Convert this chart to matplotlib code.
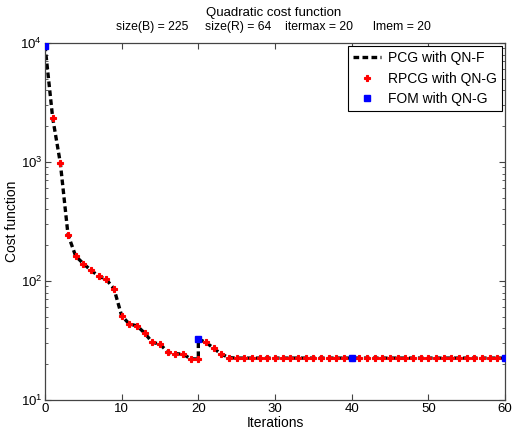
import matplotlib
matplotlib.use("Agg")
import matplotlib.pyplot as plt
import numpy as np

plt.rcParams['font.family'] = ['Liberation Sans', 'DejaVu Sans']

# Cycle 1 (iterations 0..20)
iters_c1 = list(range(0, 21))
cost_c1 = [9500, 2350, 980, 245, 162, 140, 123, 110, 103, 86, 51, 43.5, 42, 36.5,
           30.5, 29.5, 25.3, 24.5, 24.3, 22.2, 22.1]
# After restart (iterations 20..60)
iters_c2 = list(range(20, 61))
cost_c2 = [32.5, 30.5, 27.2, 24.3, 22.7] + [22.5] * 36

fom_iters = [0, 20, 40, 60]
fom_cost = [9500, 32.5, 22.5, 22.5]

pcg_x = iters_c1 + iters_c2
pcg_y = cost_c1 + cost_c2

rpcg_x = iters_c1[1:] + iters_c2[1:-1]
rpcg_y = cost_c1[1:] + cost_c2[1:-1]

title_line1 = 'Quadratic cost function'
title_parts = ['size(B) = 225', 'size(R) = 64', 'itermax = 20', 'lmem = 20']
title_centers = [152, 238, 319, 402]  # pixel x centres

W, H = 512, 433
fig = plt.figure(figsize=(W / 100, H / 100), dpi=100)
ax = fig.add_axes([45 / W, 1 - 400 / H, 460 / W, 357 / H])

ax.plot(pcg_x, pcg_y, 'k--', lw=2.4, dashes=(1.7, 1.0), label='PCG with QN-F', zorder=2)
ax.plot(rpcg_x, rpcg_y, 'P', color='red', ms=4.6, mec='red', mew=0.8, lw=0, label='RPCG with QN-G', zorder=3)
ax.plot(fom_iters, fom_cost, 's', color='blue', ms=4.8, lw=0, label='FOM with QN-G', zorder=4)

ax.set_yscale('log')
ax.set_xlim(0, 60)
ax.set_ylim(10, 1e4)
ax.set_xticks([0, 10, 20, 30, 40, 50, 60])
for s in ax.spines.values():
    s.set_color('#444444')
    s.set_linewidth(0.9)
ax.tick_params(which='both', direction='in', top=True, right=True, labelsize=9.5,
               color='#444444', pad=2)
ax.tick_params(which='major', length=4)
ax.tick_params(which='minor', length=2)
ax.set_xlabel('Iterations', fontsize=10, labelpad=1)
ax.set_ylabel('Cost function', fontsize=10, labelpad=1)

fig.text(274 / W, 1 - 13 / H, title_line1, ha='center', va='center', fontsize=9.5)
for t, cx in zip(title_parts, title_centers):
    fig.text(cx / W, 1 - 27 / H, t, ha='center', va='center', fontsize=8.8)

leg = ax.legend(loc='upper right', fontsize=10, frameon=True, fancybox=False,
                edgecolor='black', borderaxespad=0.25, handlelength=2.0,
                borderpad=0.35, labelspacing=0.45, handletextpad=0.5, framealpha=1)
leg.get_frame().set_linewidth(0.8)

fig.savefig('out.png', dpi=100)
